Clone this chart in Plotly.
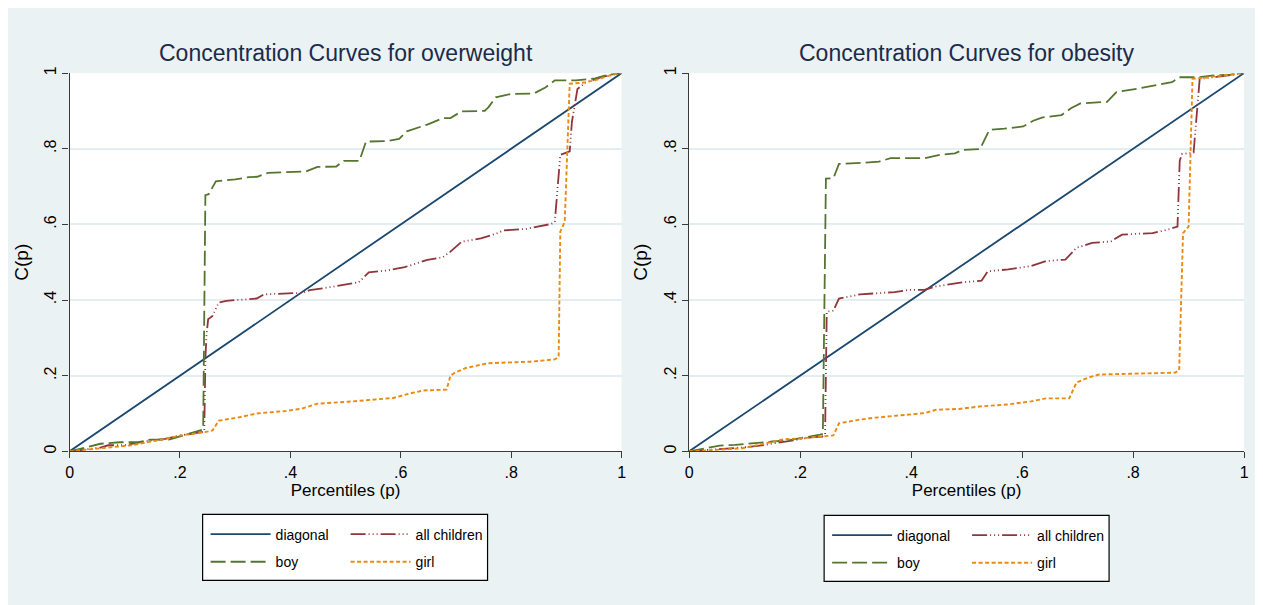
import plotly.graph_objects as go

# The page body adds an 8 px margin, so the figure is sized to fill the rest of the window
OFF = 8
W, H = 1263 - OFF, 605 - OFF

# ---------------- data ----------------
tick_vals = [0, 0.2, 0.4, 0.6, 0.8, 1]
tick_text = ["0", ".2", ".4", ".6", ".8", "1"]

diag_x = [0, 1]
diag_y = [0, 1]

# Overweight panel
ow_all_x = [0, 0.056, 0.070, 0.098, 0.139, 0.173, 0.201, 0.235, 0.244, 0.246, 0.248, 0.251,
            0.259, 0.270, 0.284, 0.339, 0.352, 0.421, 0.435, 0.476, 0.524, 0.542, 0.573,
            0.607, 0.648, 0.676, 0.690, 0.710, 0.745, 0.772, 0.786, 0.827, 0.855, 0.872,
            0.879, 0.882, 0.885, 0.889, 0.906, 0.910, 0.920, 0.935, 0.965, 1.0]
ow_all_y = [0, 0.010, 0.016, 0.016, 0.027, 0.033, 0.042, 0.050, 0.052, 0.245, 0.306, 0.349,
            0.358, 0.393, 0.398, 0.404, 0.415, 0.419, 0.426, 0.435, 0.447, 0.473, 0.478,
            0.487, 0.506, 0.513, 0.528, 0.554, 0.563, 0.575, 0.584, 0.588, 0.597, 0.601,
            0.606, 0.662, 0.706, 0.784, 0.793, 0.871, 0.958, 0.975, 0.990, 1.0]

ow_boy_x = [0, 0.056, 0.091, 0.125, 0.146, 0.180, 0.194, 0.215, 0.235, 0.242, 0.246, 0.252,
            0.265, 0.300, 0.325, 0.340, 0.359, 0.428, 0.449, 0.483, 0.497, 0.525, 0.537,
            0.573, 0.597, 0.611, 0.648, 0.676, 0.690, 0.710, 0.752, 0.759, 0.772, 0.800,
            0.841, 0.862, 0.879, 0.917, 0.952, 0.972, 1.0]
ow_boy_y = [0, 0.020, 0.024, 0.024, 0.031, 0.031, 0.037, 0.046, 0.055, 0.058, 0.677, 0.680,
            0.714, 0.719, 0.725, 0.726, 0.736, 0.740, 0.752, 0.753, 0.768, 0.768, 0.819,
            0.820, 0.826, 0.846, 0.864, 0.881, 0.881, 0.899, 0.900, 0.910, 0.936, 0.945,
            0.946, 0.962, 0.981, 0.981, 0.986, 0.994, 1.0]

ow_girl_x = [0, 0.056, 0.112, 0.160, 0.201, 0.242, 0.259, 0.270, 0.304, 0.339, 0.393, 0.421,
             0.449, 0.504, 0.545, 0.586, 0.614, 0.641, 0.683, 0.690, 0.697, 0.717, 0.758,
             0.834, 0.879, 0.886, 0.889, 0.897, 0.906, 0.932, 0.952, 0.973, 0.987, 1.0]
ow_girl_y = [0, 0.007, 0.016, 0.029, 0.042, 0.050, 0.055, 0.081, 0.089, 0.100, 0.107, 0.113,
             0.126, 0.131, 0.137, 0.141, 0.152, 0.161, 0.163, 0.200, 0.207, 0.220, 0.233,
             0.237, 0.243, 0.250, 0.581, 0.607, 0.972, 0.975, 0.981, 0.990, 0.998, 1.0]

# Obesity panel
ob_all_x = [0, 0.068, 0.103, 0.137, 0.151, 0.185, 0.219, 0.240, 0.245, 0.248, 0.260, 0.270,
            0.308, 0.370, 0.397, 0.424, 0.445, 0.493, 0.527, 0.538, 0.575, 0.616, 0.643,
            0.678, 0.698, 0.726, 0.760, 0.780, 0.835, 0.862, 0.880, 0.884, 0.888, 0.909,
            0.912, 0.917, 0.920, 0.950, 1.0]
ob_all_y = [0, 0.008, 0.011, 0.017, 0.021, 0.028, 0.037, 0.039, 0.045, 0.369, 0.372, 0.404,
            0.415, 0.421, 0.427, 0.427, 0.436, 0.447, 0.451, 0.476, 0.481, 0.490, 0.503,
            0.507, 0.538, 0.551, 0.555, 0.573, 0.577, 0.586, 0.594, 0.768, 0.786, 0.790,
            0.838, 0.925, 0.985, 0.990, 1.0]

ob_boy_x = [0, 0.055, 0.083, 0.110, 0.151, 0.178, 0.204, 0.236, 0.241, 0.2465, 0.260, 0.270,
            0.315, 0.342, 0.363, 0.424, 0.452, 0.479, 0.493, 0.524, 0.541, 0.568, 0.602,
            0.620, 0.637, 0.671, 0.688, 0.705, 0.753, 0.770, 0.808, 0.842, 0.870, 0.883,
            0.917, 0.945, 0.979, 1.0]
ob_boy_y = [0, 0.015, 0.017, 0.021, 0.026, 0.029, 0.035, 0.044, 0.046, 0.721, 0.722, 0.760,
            0.763, 0.766, 0.775, 0.775, 0.784, 0.788, 0.797, 0.799, 0.850, 0.853, 0.859,
            0.874, 0.883, 0.889, 0.907, 0.920, 0.924, 0.950, 0.959, 0.968, 0.976, 0.989,
            0.989, 0.994, 0.996, 1.0]

ob_girl_x = [0, 0.048, 0.096, 0.137, 0.171, 0.199, 0.219, 0.260, 0.270, 0.308, 0.335, 0.383,
             0.424, 0.445, 0.486, 0.527, 0.575, 0.616, 0.643, 0.685, 0.698, 0.719, 0.739,
             0.794, 0.876, 0.883, 0.890, 0.900, 0.907, 0.925, 0.959, 0.993, 1.0]
ob_girl_y = [0, 0.004, 0.008, 0.021, 0.032, 0.034, 0.037, 0.042, 0.074, 0.084, 0.089, 0.095,
             0.101, 0.110, 0.112, 0.119, 0.124, 0.132, 0.140, 0.140, 0.182, 0.195, 0.203,
             0.205, 0.208, 0.215, 0.577, 0.594, 0.985, 0.987, 0.994, 1.0, 1.0]

panel_titles = ["Concentration Curves for overweight", "Concentration Curves for obesity"]
series_names = ["diagonal", "all children", "boy", "girl"]

# ---------------- styling ----------------
FONT = "Liberation Sans, Arial, sans-serif"
BG = "#eaf2f3"
NAVY = "#1a476f"
MAROON = "#90353b"
GREEN = "#55752f"
ORANGE = "#ea8a10"
TITLE_C = "#1c2b4a"
AX_C = "#3a3a3a"

styles = {
    "diagonal": dict(color=NAVY, width=1.8, dash="solid"),
    "all children": dict(color=MAROON, width=1.8, dash="15px,3px,1px,3px,1px,3px,1px,3px"),
    "boy": dict(color=GREEN, width=1.8, dash="15px,5px"),
    "girl": dict(color=ORANGE, width=1.9, dash="4px,2.5px"),
}

def fx(p):
    # window pixel -> paper fraction
    return (p - OFF) / W

def fy(p):
    return 1 - (p - OFF) / H

fig = go.Figure()

panels = [
    dict(xa="x", ya="y", data={"diagonal": (diag_x, diag_y), "all children": (ow_all_x, ow_all_y),
                               "boy": (ow_boy_x, ow_boy_y), "girl": (ow_girl_x, ow_girl_y)},
         dom=(66, 622), box=(200, 487, 515, 582), col=(203, 344), rows=(535.5, 563.5), lg0=1),
    dict(xa="x2", ya="y2", data={"diagonal": (diag_x, diag_y), "all children": (ob_all_x, ob_all_y),
                                 "boy": (ob_boy_x, ob_boy_y), "girl": (ob_girl_x, ob_girl_y)},
         dom=(690, 1249), box=(826, 1113, 516, 583), col=(829, 970), rows=(536.5, 564.5), lg0=5),
]

layout_legends = {}
for pi, p in enumerate(panels):
    positions = {"diagonal": (0, 0), "all children": (1, 0), "boy": (0, 1), "girl": (1, 1)}
    for k, name in enumerate(series_names):
        xs, ys = p["data"][name]
        lg_idx = p["lg0"] + k
        lg_key = "legend" if lg_idx == 1 else f"legend{lg_idx}"
        fig.add_trace(go.Scatter(
            x=xs, y=ys, mode="lines", name=name, xaxis=p["xa"], yaxis=p["ya"],
            line=styles[name], legend=lg_key, showlegend=True, hoverinfo="skip"))
        c, r = positions[name]
        layout_legends[lg_key] = dict(
            x=fx(p["col"][c]), y=fy(p["rows"][r]), xanchor="left", yanchor="middle",
            orientation="v", bgcolor="rgba(0,0,0,0)", borderwidth=0,
            font=dict(family=FONT, size=14, color="black"), itemwidth=60,
            itemclick=False, itemdoubleclick=False)

axis_common = dict(
    range=[0, 1], tickvals=tick_vals, ticktext=tick_text, ticks="outside", ticklen=6,
    tickwidth=1.2, tickcolor=AX_C, showline=True, linecolor=AX_C, linewidth=1.3,
    zeroline=False, fixedrange=True,
    tickfont=dict(family=FONT, size=16, color="black"),
)

shapes = []
annotations = []
for pi, p in enumerate(panels):
    b = p["box"]
    shapes.append(dict(type="rect", xref="paper", yref="paper", x0=fx(b[0]), x1=fx(b[1]),
                       y0=fy(b[3]), y1=fy(b[2]), fillcolor="white",
                       line=dict(color="black", width=1.2), layer="below"))
    annotations.append(dict(text=panel_titles[pi], xref="paper", yref="paper",
                            x=fx((p["dom"][0] + p["dom"][1]) / 2), y=fy(47),
                            xanchor="center", yanchor="middle", showarrow=False,
                            font=dict(family=FONT, size=23, color=TITLE_C)))

ydom = [fy(451), fy(67)]
xtitle = dict(text="Percentiles (p)", standoff=3, font=dict(family=FONT, size=17, color="black"))
ytitle = dict(text="C(p)", standoff=8, font=dict(family=FONT, size=19, color="black"))
fig.update_layout(
    width=W, height=H, autosize=False,
    margin=dict(l=0, r=0, t=0, b=0),
    paper_bgcolor=BG, plot_bgcolor="white",
    shapes=shapes, annotations=annotations,
    xaxis=dict(axis_common, domain=[fx(66), fx(622)], anchor="y", showgrid=False, title=xtitle),
    yaxis=dict(axis_common, domain=ydom, anchor="x", showgrid=True, gridcolor="#e4edef",
               gridwidth=1.5, tickangle=-90, title=ytitle),
    xaxis2=dict(axis_common, domain=[fx(690), fx(1249)], anchor="y2", showgrid=False, title=xtitle),
    yaxis2=dict(axis_common, domain=ydom, anchor="x2", showgrid=True, gridcolor="#e4edef",
                gridwidth=1.5, tickangle=-90, title=ytitle),
    **layout_legends,
)

fig.write_html("out.html")
